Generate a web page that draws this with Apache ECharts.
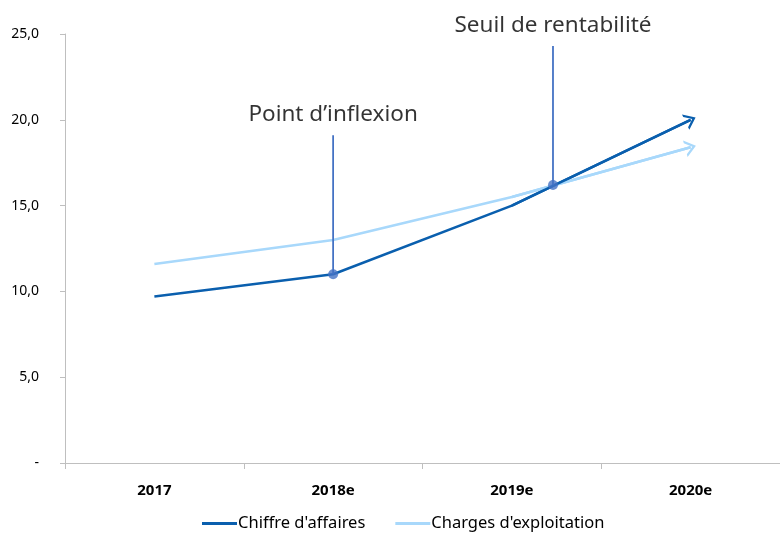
<!DOCTYPE html>
<html><head><meta charset="utf-8">
<script src="https://cdn.jsdelivr.net/npm/echarts@6/dist/echarts.min.js"></script>
<style>html,body{margin:0;padding:0;background:#fff}#c{width:780px;height:535px}</style>
</head><body><div id="c"></div>
<script>
const categories = ['2017', '2018e', '2019e', '2020e'];
const chiffreAffaires = [9.7, 11.0, 15.0, 20.0];
const chargesExploitation = [11.6, 13.0, 15.5, 18.4];
const yTicks = [0, 5, 10, 15, 20, 25];
// annotations: [x position (category index), point value, stem top value, label]
const inflexion = [1, 11.0, 19.1, 'Point d\u2019inflexion'];
const seuil = [2.23, 16.2, 24.3, 'Seuil de rentabilité'];

const darkColor = '#0A5FAE';
const lightColor = '#A8D8FB';
const annColor = '#4472C4';
const font = 'Noto Sans';
const chevron = 'path://M0,10 L5,0 L10,10 L8.3,10 L5,3.4 L1.7,10 Z';

function arrowLine(values) {
  const n = values.length;
  return {
    silent: true, symbol: ['none', chevron], symbolSize: [17, 11],
    label: {show: false}, emphasis: {disabled: true},
    data: [[{coord: [n - 2, values[n - 2]]}, {coord: [n - 1, values[n - 1]]}]]
  };
}
function annSeries(a) {
  return [{
    type: 'line', xAxisIndex: 1, data: [[a[0], a[1]], [a[0], a[2]]],
    symbol: 'none', lineStyle: {color: annColor, width: 1.8}, silent: true, z: 5
  }, {
    type: 'scatter', xAxisIndex: 1, data: [[a[0], a[1]]], symbolSize: 10,
    itemStyle: {color: annColor}, silent: true, z: 6
  }, {
    type: 'scatter', xAxisIndex: 1, data: [[a[0], a[2]]], symbolSize: 0, silent: true,
    label: {show: true, position: 'top', distance: 9, formatter: a[3],
      fontFamily: font, fontSize: 22.5, color: '#000'}
  }];
}

const chart = echarts.init(document.getElementById('c'));
chart.setOption({
  animation: false,
  textStyle: {fontFamily: font},
  grid: {left: 65, right: 0, top: 34, bottom: 72, containLabel: false},
  xAxis: [{
    type: 'category', data: categories, boundaryGap: true,
    axisLine: {lineStyle: {color: '#BFBFBF', width: 1}},
    axisTick: {show: true, length: 6, lineStyle: {color: '#BFBFBF'}},
    axisLabel: {fontFamily: font, fontSize: 15, fontWeight: 'bold', color: '#000', margin: 20}
  }, {
    type: 'value', min: -0.5, max: 3.5, show: false
  }],
  yAxis: {
    type: 'value', min: 0, max: 25, interval: 5,
    splitLine: {show: false},
    axisLine: {show: true, onZero: false, lineStyle: {color: '#BFBFBF'}},
    axisTick: {show: true, length: 5, lineStyle: {color: '#BFBFBF'}},
    axisLabel: {fontFamily: font, fontSize: 14, color: '#000', margin: 26,
      formatter: v => v === 0 ? '-' : v.toFixed(1).replace('.', ',')}
  },
  legend: {
    bottom: -2, left: 197, itemGap: 30, itemWidth: 35, itemHeight: 3, icon: 'rect',
    textStyle: {fontFamily: font, fontSize: 16.5, color: '#000', padding: [0, 0, 0, -4]},
    data: ["Chiffre d'affaires", "Charges d'exploitation"]
  },
  series: [{
    name: "Charges d'exploitation", type: 'line', data: chargesExploitation,
    symbol: 'none', lineStyle: {color: lightColor, width: 2.5}, itemStyle: {color: lightColor},
    z: 2, markLine: Object.assign(arrowLine(chargesExploitation), {lineStyle: {color: lightColor, width: 2.5, type: 'solid'}})
  }, {
    name: "Chiffre d'affaires", type: 'line', data: chiffreAffaires,
    symbol: 'none', lineStyle: {color: darkColor, width: 2.5}, itemStyle: {color: darkColor},
    z: 3, markLine: Object.assign(arrowLine(chiffreAffaires), {lineStyle: {color: darkColor, width: 2.5, type: 'solid'}})
  }].concat(annSeries(inflexion), annSeries(seuil))
});
</script></body></html>
